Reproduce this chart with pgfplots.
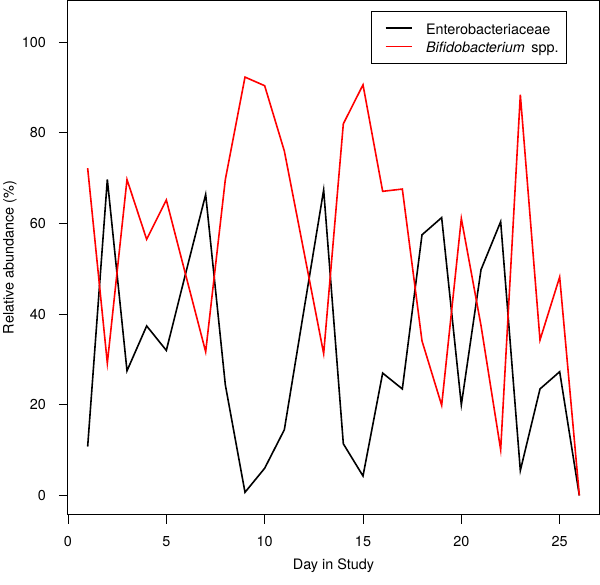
\documentclass[border=0pt]{standalone}
\usepackage{fontspec}
\setmainfont{TeX Gyre Heros}
\usepackage{pgfplots}
\pgfplotsset{compat=1.18}
\pgfplotsset{mylegend/.style={legend image code/.code={\draw[##1, line width=1.6pt] (0pt,0pt) -- (26.7pt,0pt);}}}
\begin{document}
\fontsize{14.4}{17}\selectfont
\begin{tikzpicture}
\useasboundingbox (-68pt,-70pt) rectangle (532pt,514.5pt);
\begin{axis}[
  at={(0pt,0pt)}, anchor=south west,
  scale only axis, width=531pt, height=514pt,
  xmin=0, xmax=27, ymin=-4.2, ymax=109.2,
  xtick={0,5,...,25}, ytick={0,20,...,100},
  tick align=outside, xtick pos=bottom, ytick pos=left,
  major tick length=9pt,
  tick style={black, line width=0.8pt},
  axis line style={line width=1pt},
  /pgf/number format/assume math mode=true,
  ticklabel style={font=\fontsize{14.4}{17}\selectfont},
  xticklabel style={yshift=-8pt},
  yticklabel style={xshift=-8pt},
  xlabel={Day in Study}, ylabel={Relative abundance (\%)},
  label style={font=\fontsize{14.4}{17}\selectfont},
  xlabel style={at={(axis description cs:0.5,0)}, anchor=center, yshift=-51pt},
  ylabel style={at={(axis description cs:0,0.5)}, anchor=center, yshift=58pt},
  legend style={at={(rel axis cs:0.9392,0.9805)}, anchor=north east,
    draw=black, line width=0.8pt, inner xsep=13.3pt, inner ysep=7pt,
    font=\fontsize{14.4}{17}\selectfont, row sep=-0.9pt,
    nodes={inner sep=0pt, text height=16.3pt, text depth=3.3pt},
    /tikz/every odd column/.append style={column sep=13pt}},
  legend cell align=left,
]
\addplot[black, line width=1.6pt, mylegend] coordinates {
(1,10.8) (2,69.7) (3,27.5) (4,37.4) (5,32.0) (6,49.3) (7,66.4) (8,24.4) (9,0.7)
(10,6.0) (11,14.5) (12,41.0) (13,67.4) (14,11.4) (15,4.3) (16,27.0) (17,23.5)
(18,57.5) (19,61.3) (20,20.0) (21,49.8) (22,60.4) (23,5.5) (24,23.5) (25,27.3) (26,0)
};
\addlegendentry{Enterobacteriaceae}
\addplot[red, line width=1.6pt, mylegend] coordinates {
(1,72.2) (2,29.2) (3,69.7) (4,56.5) (5,65.2) (6,48.4) (7,31.7) (8,69.7) (9,92.3)
(10,90.4) (11,76.0) (12,53.7) (13,31.3) (14,82.0) (15,90.6) (16,67.1) (17,67.6)
(18,34.1) (19,19.9) (20,61.1) (21,37.5) (22,10.1) (23,88.4) (24,34.3) (25,48.2) (26,0)
};
\addlegendentry{\textit{Bifidobacterium}\, spp.\hspace*{-5.6pt}}
\end{axis}
\end{tikzpicture}
\end{document}
